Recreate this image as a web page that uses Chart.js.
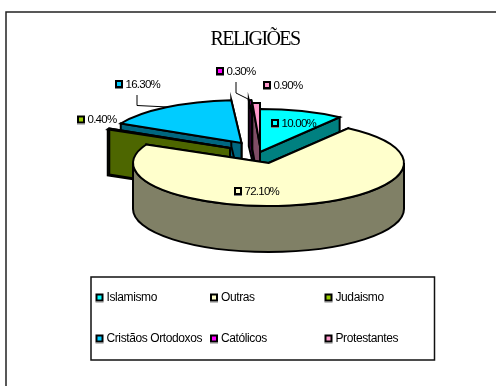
<!DOCTYPE html>
<html lang="pt">
<head>
<meta charset="utf-8">
<title>Religiões</title>
<script src="https://cdn.jsdelivr.net/npm/chart.js@4"></script>
<style>
  html, body { margin: 0; padding: 0; background: #fff; }
  canvas { display: block; }
</style>
</head>
<body>
<canvas id="chart" width="496" height="386"></canvas>
<script>
// Chart content
const chartTitle = 'RELIGIÕES';
const categories = ['Islamismo', 'Outras', 'Judaismo', 'Cristãos Ortodoxos', 'Católicos', 'Protestantes'];
const shares = [10.0, 72.1, 0.4, 16.3, 0.3, 0.9];

// Slice appearance
const topColors = ['#00FFFF', '#FFFFCC', '#99CC00', '#00CCFF', '#FF00FF', '#FF99CC'];
const wallColors = ['#008080', '#808066', '#4D6600', '#006680', '#800080', '#804D66'];

// Exploded-slice displacement from the pie centre, in pixels
const shiftX = [-8.5, 0, -38.5, -27, -9.5, -8.5];
const shiftY = [-11, 0, -15, -20, -20, -17];

// Painted back to front so nearer slices cover farther ones
const paintOrder = [3, 2, 4, 5, 0, 1];

const TILT = 0.317;
const DEPTH = 46;
const OUTLINE = 2;

// Value label placement: swatch centre
const labelSwatchX = [275, 238, 81, 119, 220, 267];
const labelSwatchY = [123, 191, 119.5, 84, 71, 85];

// Leader lines for the labels sitting away from their slices
const leaders = [
  [[137, 95], [137, 105.5], [168, 107]],
  [[236, 82], [236, 93], [248, 99]]
];

// Legend grid
const legendBox = { x: 91, y: 277, w: 343.5, h: 83 };
const legendColumns = [99.5, 214, 328.5];
const legendRows = [297.5, 338.5];

// Pie controller that paints each arc as an extruded, tilted wedge
class TiltedPieController extends Chart.PieController {
  draw() {
    const ctx = this.chart.ctx;
    const arcs = this.getMeta().data;
    ctx.save();
    ctx.lineWidth = OUTLINE;
    ctx.strokeStyle = '#000';
    ctx.lineJoin = 'miter';
    paintOrder.forEach(i => paintWedge(ctx, arcs[i], i));
    ctx.restore();
  }
}
TiltedPieController.id = 'tiltedPie';
Chart.register(TiltedPieController);

function paintWedge(ctx, arc, i) {
  const cx = arc.x + shiftX[i];
  const cy = arc.y + shiftY[i];
  const rx = arc.outerRadius;
  const ry = rx * TILT;
  const a0 = arc.startAngle;
  const a1 = arc.endAngle;
  const px = a => cx + rx * Math.cos(a);
  const py = a => cy + ry * Math.sin(a);

  const fillStroke = color => {
    ctx.fillStyle = color;
    ctx.fill();
    ctx.stroke();
  };

  // Flat cut faces on either side of the wedge
  [a0, a1].forEach(a => {
    ctx.beginPath();
    ctx.moveTo(cx, cy);
    ctx.lineTo(px(a), py(a));
    ctx.lineTo(px(a), py(a) + DEPTH);
    ctx.lineTo(cx, cy + DEPTH);
    ctx.closePath();
    fillStroke(wallColors[i]);
  });

  // Curved rim, only along the front half of the ellipse
  const from = Math.max(a0, 0);
  const to = Math.min(a1, Math.PI);
  if (to > from) {
    ctx.beginPath();
    ctx.ellipse(cx, cy, rx, ry, 0, from, to);
    ctx.ellipse(cx, cy + DEPTH, rx, ry, 0, to, from, true);
    ctx.closePath();
    fillStroke(wallColors[i]);
  }

  // Top face
  ctx.beginPath();
  ctx.moveTo(cx, cy);
  ctx.ellipse(cx, cy, rx, ry, 0, a0, a1);
  ctx.closePath();
  fillStroke(topColors[i]);
}

function swatch(ctx, x, y, color) {
  ctx.fillStyle = '#000';
  ctx.fillRect(x - 4, y - 4, 8, 8);
  ctx.fillStyle = '#808080';
  ctx.fillRect(x - 4, y + 4, 8, 1);
  ctx.fillStyle = color;
  ctx.fillRect(x - 2, y - 2, 4, 4);
}

// Page frame and title, behind the pie
const framePlugin = {
  id: 'frame',
  beforeDraw(chart) {
    const ctx = chart.ctx;
    ctx.save();
    ctx.strokeStyle = '#222';
    ctx.lineWidth = 1.5;
    ctx.beginPath();
    ctx.moveTo(6, 386);
    ctx.lineTo(6, 12);
    ctx.lineTo(496, 12);
    ctx.stroke();

    ctx.fillStyle = '#000';
    ctx.font = '20px "Liberation Serif"';
    ctx.letterSpacing = '-1.6px';
    ctx.textAlign = 'center';
    ctx.textBaseline = 'alphabetic';
    ctx.fillText(chartTitle, 255, 45);
    ctx.restore();
  }
};

// Value labels, leader lines and legend, over the pie
const annotationPlugin = {
  id: 'annotations',
  afterDraw(chart) {
    const ctx = chart.ctx;
    ctx.save();
    ctx.strokeStyle = '#000';
    ctx.lineWidth = 1;
    leaders.forEach(points => {
      ctx.beginPath();
      points.forEach(([x, y], k) => (k ? ctx.lineTo(x, y) : ctx.moveTo(x, y)));
      ctx.stroke();
    });

    ctx.textBaseline = 'middle';
    ctx.textAlign = 'left';
    ctx.font = '11.5px "Liberation Sans"';
    ctx.letterSpacing = '-0.75px';

    shares.forEach((value, i) => {
      swatch(ctx, labelSwatchX[i], labelSwatchY[i], topColors[i]);
      ctx.fillStyle = '#000';
      ctx.fillText(value.toFixed(2) + '%', labelSwatchX[i] + 6.5, labelSwatchY[i] + 0.5);
    });

    ctx.lineWidth = 1.5;
    ctx.strokeStyle = '#111';
    ctx.strokeRect(legendBox.x, legendBox.y, legendBox.w, legendBox.h);

    ctx.font = '12px "Liberation Sans"';
    ctx.letterSpacing = '-0.4px';
    categories.forEach((name, i) => {
      const x = legendColumns[i % 3];
      const y = legendRows[Math.floor(i / 3)];
      swatch(ctx, x, y, topColors[i]);
      ctx.fillStyle = '#000';
      ctx.fillText(name, x + 7, y + 0.5);
    });
    ctx.restore();
  }
};

new Chart(document.getElementById('chart'), {
  type: 'tiltedPie',
  data: {
    labels: categories,
    datasets: [{
      data: shares,
      backgroundColor: topColors,
      borderWidth: 0,
      radius: 135.5
    }]
  },
  options: {
    responsive: false,
    animation: false,
    devicePixelRatio: 1,
    layout: { padding: { left: 41, right: 0, top: 0, bottom: 60 } },
    plugins: {
      legend: { display: false },
      title: { display: false },
      tooltip: { enabled: false }
    }
  },
  plugins: [framePlugin, annotationPlugin]
});
</script>
</body>
</html>
